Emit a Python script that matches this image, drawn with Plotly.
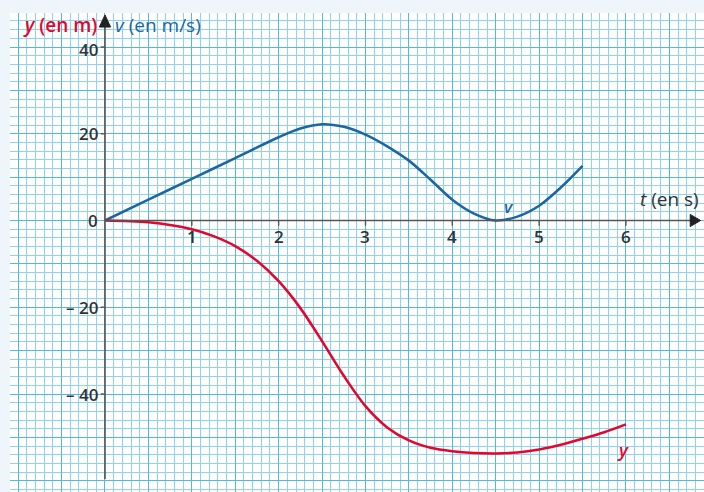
import plotly.graph_objects as go

# Velocity v(t) in m/s
t_v = [0, 0.5, 1, 1.5, 2, 2.25, 2.5, 2.75, 3, 3.25, 3.5, 3.75, 4, 4.25, 4.5, 4.75, 5, 5.25, 5.5]
v_vals = [0, 4.8, 9.6, 14.4, 19.2, 21.2, 22.2, 21.6, 19.8, 17.1, 13.8, 9.4, 4.8, 1.6, 0, 0.9, 3.4, 7.6, 12.6]

# Position y(t) in m
t_y = [0, 0.5, 1, 1.25, 1.5, 1.75, 2, 2.25, 2.5, 2.75, 3, 3.25, 3.5, 3.75, 4, 4.25, 4.5, 4.75, 5,
       5.25, 5.5, 5.75, 6]
y_vals = [0, -0.4, -2.0, -3.6, -5.9, -9.3, -14.0, -20.2, -27.8, -35.8, -42.8, -47.7, -50.7, -52.4,
          -53.2, -53.6, -53.7, -53.5, -52.8, -51.7, -50.3, -48.8, -47.0]

# Axis tick labels
t_ticks = [1, 2, 3, 4, 5, 6]
t_tick_text = ["1", "2", "3", "4", "5", "6"]
y_ticks = [40, 20, 0, -20, -40]
y_tick_text = ["40", "20", "0", "\u2013 20", "\u2013 40"]

RED = "#e3062d"
BLUE = "#1b67a3"
AXIS = "#555555"
TXT = "#333333"
FONT = "Open Sans"

X_RANGE = [-1.094, 6.899]
Y_RANGE = [-62.59, 47.84]

fig = go.Figure()

fig.add_trace(go.Scatter(x=t_v, y=v_vals, mode="lines",
                         line=dict(color=BLUE, width=2.6, shape="spline", smoothing=0.9),
                         hoverinfo="skip", showlegend=False))
fig.add_trace(go.Scatter(x=t_y, y=y_vals, mode="lines",
                         line=dict(color=RED, width=2.6, shape="spline", smoothing=0.9),
                         hoverinfo="skip", showlegend=False))

shapes = []
# horizontal axis with arrow
shapes.append(dict(type="line", xref="x", yref="y", x0=0, x1=6.76, y0=0, y1=0,
                   line=dict(color=AXIS, width=1.6), layer="above"))
shapes.append(dict(type="path", xref="x", yref="y",
                   path="M 6.74 1.4 L 6.86 0 L 6.74 -1.4 Z",
                   fillcolor="#222222", line=dict(color="#222222", width=1), layer="above"))
# vertical axis with arrow
shapes.append(dict(type="line", xref="x", yref="y", x0=0, x1=0, y0=-59.6, y1=44.8,
                   line=dict(color=AXIS, width=1.6), layer="above"))
shapes.append(dict(type="path", xref="x", yref="y",
                   path="M -0.065 44.6 L 0 47.4 L 0.065 44.6 Z",
                   fillcolor="#222222", line=dict(color="#222222", width=1), layer="above"))
# tick marks
for t in t_ticks:
    shapes.append(dict(type="line", xref="x", yref="y", x0=t, x1=t, y0=0, y1=-1.2,
                       line=dict(color=AXIS, width=1.4), layer="above"))
for yv in y_ticks:
    if yv != 0:
        shapes.append(dict(type="line", xref="x", yref="y", x0=-0.05, x1=0, y0=yv, y1=yv,
                           line=dict(color=AXIS, width=1.4), layer="above"))

annotations = []
for t, txt in zip(t_ticks, t_tick_text):
    annotations.append(dict(x=t, y=0, xref="x", yref="y", text=txt, showarrow=False,
                            yshift=-16, font=dict(family=FONT, size=17, color=TXT, weight=600)))
for yv, txt in zip(y_ticks, y_tick_text):
    annotations.append(dict(x=0, y=yv, xref="x", yref="y", text=txt, showarrow=False,
                            xanchor="right", xshift=-5, yshift=-2 if yv == 40 else 0,
                            font=dict(family=FONT, size=17, color=TXT, weight=600)))

annotations += [
    dict(x=0, y=45.1, xref="x", yref="y", text="<i>y</i> (en m)", showarrow=False,
         xanchor="right", xshift=-6, font=dict(family=FONT, size=19, color=RED, weight=600)),
    dict(x=0, y=45.1, xref="x", yref="y", text="<i>v</i> (en m/s)", showarrow=False,
         xanchor="left", xshift=8, font=dict(family=FONT, size=19, color=BLUE, weight=500)),
    dict(x=6.86, y=0, xref="x", yref="y", text="<i>t</i> (en s)", showarrow=False,
         xanchor="right", yshift=22, font=dict(family=FONT, size=19, color=TXT, weight=500)),
    dict(x=4.65, y=3.3, xref="x", yref="y", text="<i>v</i>", showarrow=False,
         font=dict(family=FONT, size=17, color=BLUE, weight=600)),
    dict(x=5.97, y=-53.0, xref="x", yref="y", text="<i>y</i>", showarrow=False,
         font=dict(family=FONT, size=18, color=RED, weight=600)),
]

fig.update_layout(
    width=704, height=492,
    margin=dict(l=10, r=0, t=13, b=0),
    paper_bgcolor="#eef5fb",
    plot_bgcolor="#ffffff",
    shapes=shapes,
    annotations=annotations,
    showlegend=False,
    xaxis=dict(range=X_RANGE, showticklabels=False, ticks="", zeroline=False,
               showgrid=True, tick0=0, dtick=0.5, gridcolor="#52b9e4", gridwidth=1.3,
               minor=dict(tick0=0, dtick=0.1, showgrid=True, gridcolor="#8fd3f1", gridwidth=1),
               fixedrange=True),
    yaxis=dict(range=Y_RANGE, showticklabels=False, ticks="", zeroline=False,
               showgrid=True, tick0=0, dtick=10, gridcolor="#52b9e4", gridwidth=1.3,
               minor=dict(tick0=0, dtick=2, showgrid=True, gridcolor="#8fd3f1", gridwidth=1),
               fixedrange=True),
)

fig.write_html("out.html", config={"displayModeBar": False})
